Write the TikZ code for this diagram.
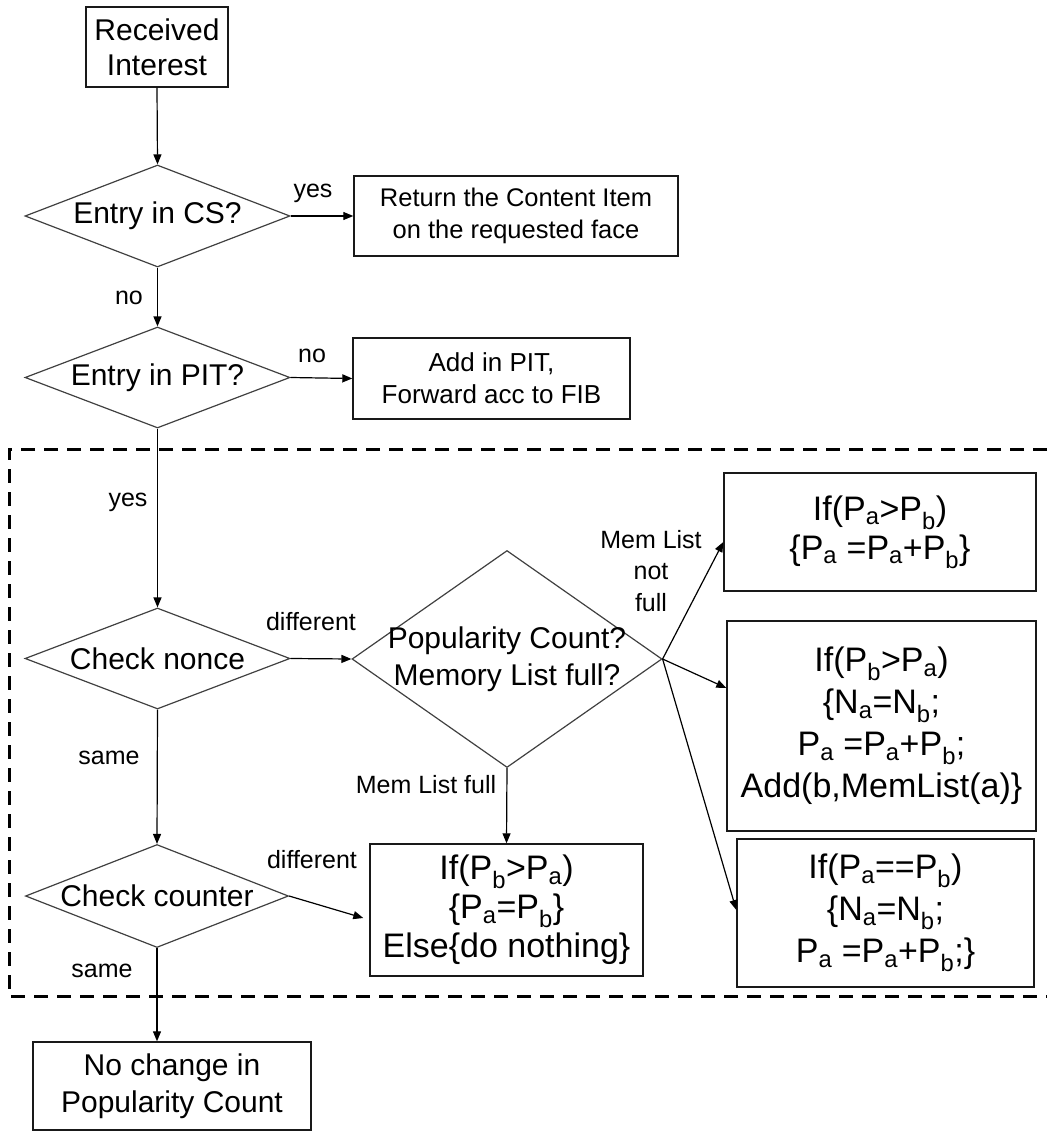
\documentclass[tikz,border=0pt]{standalone}
\usepackage{fontspec}
\setmainfont{Liberation Sans}
\usetikzlibrary{shapes.geometric,arrows.meta}
\newcommand{\fsz}[2]{\fontsize{#1}{#2}\selectfont}
\newcommand{\sub}[1]{\textsubscript{#1}}
\begin{document}
\begin{tikzpicture}[x=1pt,y=-1pt,
  box/.style={draw=black!90, line width=1.4pt, align=center, inner sep=0pt},
  dia/.style={draw=black!75, line width=1.2pt, shape=diamond, aspect=2.6,
              inner xsep=-8pt, inner ysep=0pt, align=center, font=\fsz{30}{35}},
  arr/.style={-{Triangle[length=10pt,width=8pt]}, line width=1.2pt},
  lbl/.style={font=\fsz{25}{31.5}, align=center, inner sep=0pt},
  region/.style={dashed, line width=3pt, dash pattern=on 14pt off 9pt}]
\useasboundingbox (0,0) rectangle (1047,1131);

% decision chain on the left
\node[box, minimum width=142, minimum height=80, font=\fsz{30}{35}] (recv) at (157,47) {Received\\Interest};
\node[dia, minimum width=265, minimum height=102] (cs) at (157.5,216) {Entry in CS?};
\node[dia, minimum width=265, minimum height=101] (pit) at (157.5,377.5) {Entry in PIT?};
\node[dia, minimum width=265, minimum height=101] (nonce) at (157.5,658.5) {Check nonce};
\node[dia, minimum width=263, minimum height=103] (counter) at (157,896) {Check counter};
\node[box, minimum width=278, minimum height=88, font=\fsz{30}{37}] (nochange) at (172,1086) {No change in\\Popularity Count};

% outcome boxes of the first two tests
\node[box, minimum width=324, minimum height=80, font=\fsz{25.5}{32}] (ret) at (516,216) {Return the Content Item\\on the requested face};
\node[box, minimum width=277, minimum height=81, font=\fsz{26}{32}] (add) at (491.5,378.5) {Add in PIT,\\Forward acc to FIB};

% popularity decision and its updates
\node[dia, aspect=1.43, inner xsep=-12pt, minimum width=310, minimum height=217, font=\fsz{30}{37}] (pop) at (507,659) {Popularity Count?\\Memory List full?};
\node[box, minimum width=312, minimum height=118, font=\fsz{34}{39}] (b1) at (880,532)
  {If(P\sub{a}>P\sub{b})\\\{P\sub{a} =P\sub{a}+P\sub{b}\}};
\node[box, minimum width=309, minimum height=210, font=\fsz{34}{42}] (b2) at (881.5,726)
  {If(P\sub{b}>P\sub{a})\\\{N\sub{a}=N\sub{b};\\P\sub{a} =P\sub{a}+P\sub{b};\\Add(b,MemList(a)\}};
\node[box, minimum width=297, minimum height=148, font=\fsz{34}{42}] (b3) at (885.5,913)
  {If(P\sub{a}==P\sub{b})\\\{N\sub{a}=N\sub{b};\\P\sub{a} =P\sub{a}+P\sub{b};\}};
\node[box, minimum width=273, minimum height=132, font=\fsz{34}{39}] (b4) at (506.5,910)
  {If(P\sub{b}>P\sub{a})\\\{P\sub{a}=P\sub{b}\}\\Else\{do nothing\}};

% connectors
\draw[arr] (recv.south) -- (cs.north);
\draw[arr] (cs.east) -- (ret.west);
\draw[arr] (cs.south) -- (pit.north);
\draw[arr] (pit.east) -- (add.west);
\draw[arr] (pit.south) -- (nonce.north);
\draw[arr] (nonce.east) -- (pop.west);
\draw[arr] (nonce.south) -- (counter.north);
\draw[arr] (pop.south) -- (b4.north);
\draw[arr] (pop.east) -- ([yshift=-10pt]b1.west);
\draw[arr] (pop.east) -- ([yshift=38pt]b2.west);
\draw[arr] (pop.east) -- ([yshift=3pt]b3.west);
\draw[arr] (counter.east) -- ([xshift=-6pt,yshift=-8pt]b4.west);
\draw[arr] (counter.south) -- (counter.south |- nochange.north);

% connector labels
\node[lbl] (lyes1) at (313,193) {yes};
\node[lbl] (lno1) at (129,298) {no};
\node[lbl] (lno2) at (312,356) {no};
\node[lbl] (lyes2) at (128,502) {yes};
\node[lbl] (ldiff1) at (311,622) {different};
\node[lbl] (lsame1) at (109,758) {same};
\node[lbl] (lfull) at (426,785) {Mem List full};
\node[lbl] (lnotfull) at (651,571) {Mem List\\not\\full};
\node[lbl] (ldiff2) at (312,860) {different};
\node[lbl] (lsame2) at (102,971) {same};

% dashed region around the nonce/counter handling
\draw[region] (1047,449) -- (9,449) -- (9,996) -- (1047,996);
\end{tikzpicture}
\end{document}
